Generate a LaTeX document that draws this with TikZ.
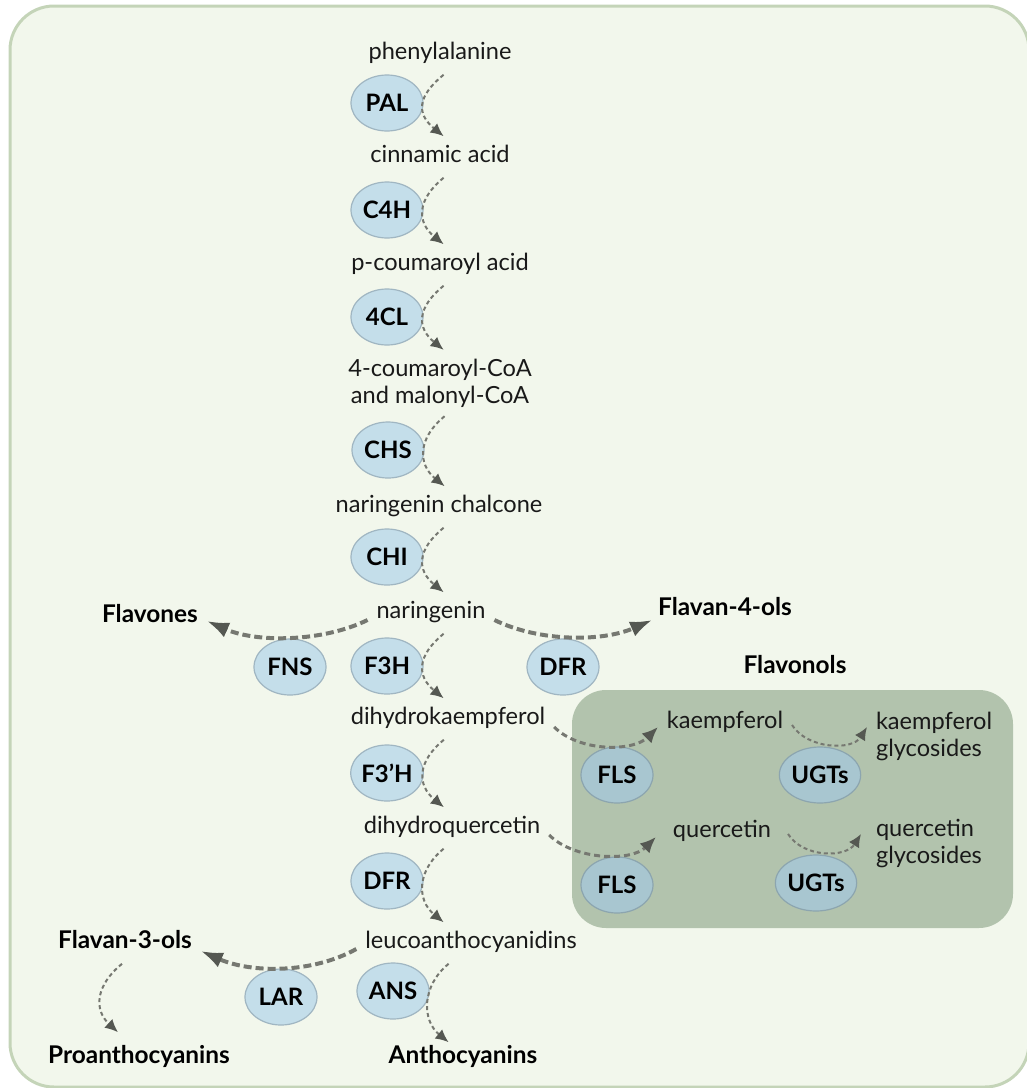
\documentclass[tikz,border=0pt]{standalone}
\usepackage{fontspec}
\setmainfont{Lato}
\usetikzlibrary{shapes.geometric, arrows.meta, calc}

\definecolor{framefill}{RGB}{242,247,236}
\definecolor{frameline}{RGB}{196,212,184}
\definecolor{boxfill}{RGB}{178,195,173}
\definecolor{enzfill}{RGB}{196,222,234}
\definecolor{enzline}{RGB}{160,182,194}
\definecolor{enzfillb}{RGB}{168,198,208}
\definecolor{enzlineb}{RGB}{140,165,175}
\definecolor{arrline}{RGB}{118,120,113}
\definecolor{arrhead}{RGB}{85,88,82}
\definecolor{txt}{RGB}{25,25,25}

\tikzstyle{txtnode} = [inner sep=0pt, outer sep=4.5pt, text=txt, font=\fontsize{11.8}{13.5}\selectfont]
\tikzstyle{compound} = [txtnode, text height=8.8pt, text depth=3pt]
\tikzstyle{product} = [compound, text=black, font=\bfseries\fontsize{12.2}{14}\selectfont]
\tikzstyle{enzyme} = [ellipse, draw=enzline, fill=enzfill, line width=0.6pt, minimum width=36pt, minimum height=28pt, inner sep=0pt, font=\bfseries\fontsize{12}{14}\selectfont]
\tikzstyle{enzymeb} = [enzyme, draw=enzlineb, fill=enzfillb]
\tikzstyle{steparrow} = [draw=arrline, line width=1pt, dash pattern=on 2pt off 1.5pt, -{Latex[length=6.5pt, width=6pt, color=arrhead]}]
\tikzstyle{flsarrow} = [draw=arrline, line width=1.5pt, dash pattern=on 3pt off 2pt, -{Latex[length=8pt, width=7pt, color=arrhead]}]
\tikzstyle{branch} = [draw=arrline, line width=2pt, dash pattern=on 4pt off 2pt, -{Latex[length=11pt, width=8pt, color=arrhead]}]

\begin{document}
\begin{tikzpicture}[x=0.5pt, y=-0.5pt]
        \useasboundingbox (0,0) rectangle (1027,1088);
        % Background
        \draw [frameline, fill=framefill, line width=1.5pt, rounded corners=22pt] (10,6) rectangle (1029,1087);
        \fill [boxfill, rounded corners=17pt] (572,690) rectangle (1013,928);
        % Place nodes
        \node [compound] (A) at (440,54) {phenylalanine};
        \node [compound] (B) at (440,157) {cinnamic acid};
        \node [compound] (C) at (440,265) {p-coumaroyl acid};
        \node [txtnode, align=center] (D) at (440,383) {4-coumaroyl-CoA\\and malonyl-CoA};
        \node [compound] (E) at (439,507) {naringenin chalcone};
        \node [compound] (F) at (431,613) {naringenin};
        \node [compound] (G) at (448,719) {dihydrokaempferol};
        \node [compound] (H) at (452,828) {dihydroquercetin};
        \node [compound] (I) at (471,943) {leucoanthocyanidins};
        \node [product] (J) at (463,1058) {Anthocyanins};
        \node [product] (K) at (150,617) {Flavones};
        \node [product] (L) at (725,610) {Flavan-4-ols};
        \node [product] (M) at (125,943) {Flavan-3-ols};
        \node [product] (N) at (139,1058) {Proanthocyanins};
        \node [product] (O) at (795,668) {Flavonols};
        \node [compound] (P) at (725,723) {kaempferol};
        \node [compound] (Q) at (722,832) {quercetin};
        \node [txtnode, align=left, anchor=west] (R) at (867,736) {kaempferol\\glycosides};
        \node [txtnode, align=left, anchor=west] (S) at (867,843) {quercetin\\glycosides};
        % Enzymes
        \node [enzyme] (PAL) at (387,103) {PAL};
        \node [enzyme] (CFH) at (387,210) {C4H};
        \node [enzyme] (FCL) at (387,317) {4CL};
        \node [enzyme] (CHS) at (388,450) {CHS};
        \node [enzyme] (CHI) at (387,557) {CHI};
        \node [enzyme] (FTH) at (387,666) {F3H};
        \node [enzyme] (FTPH) at (387,773) {F3{\char"0027}H};
        \node [enzyme] (DFR) at (387,881) {DFR};
        \node [enzyme] (ANS) at (393,991) {ANS};
        \node [enzyme] (FNS) at (290,667) {FNS};
        \node [enzyme] (DFRb) at (563,667) {DFR};
        \node [enzyme] (LAR) at (281,997) {LAR};
        \node [enzymeb] (FLSa) at (617,775) {FLS};
        \node [enzymeb] (FLSb) at (617,885) {FLS};
        \node [enzymeb] (UGTa) at (820,775) {UGTs};
        \node [enzymeb] (UGTb) at (816,883) {UGTs};
        % Draw edges
        \draw [steparrow] ($(A.south -| PAL.east)+(20,0)$) .. controls +(-27,22) and +(-27,-22) .. ($(B.north -| PAL.east)+(20,0)$);
        \draw [steparrow] ($(B.south -| CFH.east)+(20,0)$) .. controls +(-27,22) and +(-27,-22) .. ($(C.north -| CFH.east)+(20,0)$);
        \draw [steparrow] ($(C.south -| FCL.east)+(20,0)$) .. controls +(-27,22) and +(-27,-22) .. ($(D.north -| FCL.east)+(20,0)$);
        \draw [steparrow] ($(D.south -| CHS.east)+(20,0)$) .. controls +(-27,22) and +(-27,-22) .. ($(E.north -| CHS.east)+(20,0)$);
        \draw [steparrow] ($(E.south -| CHI.east)+(20,0)$) .. controls +(-27,22) and +(-27,-22) .. ($(F.north -| CHI.east)+(20,0)$);
        \draw [steparrow] ($(F.south -| FTH.east)+(20,0)$) .. controls +(-27,22) and +(-27,-22) .. ($(G.north -| FTH.east)+(20,0)$);
        \draw [steparrow] ($(G.south -| FTPH.east)+(20,0)$) .. controls +(-27,22) and +(-27,-22) .. ($(H.north -| FTPH.east)+(20,0)$);
        \draw [steparrow] ($(H.south -| DFR.east)+(20,0)$) .. controls +(-27,22) and +(-27,-22) .. ($(I.north -| DFR.east)+(20,0)$);
        \draw [steparrow] ($(I.south -| ANS.east)+(19,0)$) .. controls +(-27,22) and +(-27,-22) .. ($(J.north -| ANS.east)+(19,5)$);
        \draw [steparrow] ($(M.south)+(-3,0)$) .. controls +(-27,22) and +(-24,-22) .. ($(N.north)+(-21,-5)$);
        \draw [branch] ($(F.west)+(0,7)$) .. controls +(-45,22) and +(50,22) .. ($(K.east)+(0,4)$);
        \draw [branch] ($(F.east)+(0,7)$) .. controls +(45,22) and +(-50,22) .. ($(L.west)+(3,10)$);
        \draw [branch] ($(I.west)+(0,6)$) .. controls +(-45,25) and +(50,22) .. ($(M.east)+(0,8)$);
        \draw [flsarrow] ($(G.east)+(0,8)$) .. controls +(25,25) and +(-25,25) .. ($(P.west)+(0,4)$);
        \draw [flsarrow] ($(H.east)+(0,7)$) .. controls +(25,25) and +(-25,25) .. ($(Q.west)+(-8,5)$);
        \draw [steparrow] ($(P.east)+(0,2)$) .. controls +(15,24) and +(-15,24) .. ($(R.west)+(0,-9)$);
        \draw [steparrow] ($(Q.east)+(8,2)$) .. controls +(15,24) and +(-15,24) .. ($(S.west)+(-6,-9)$);
\end{tikzpicture}
\end{document}
